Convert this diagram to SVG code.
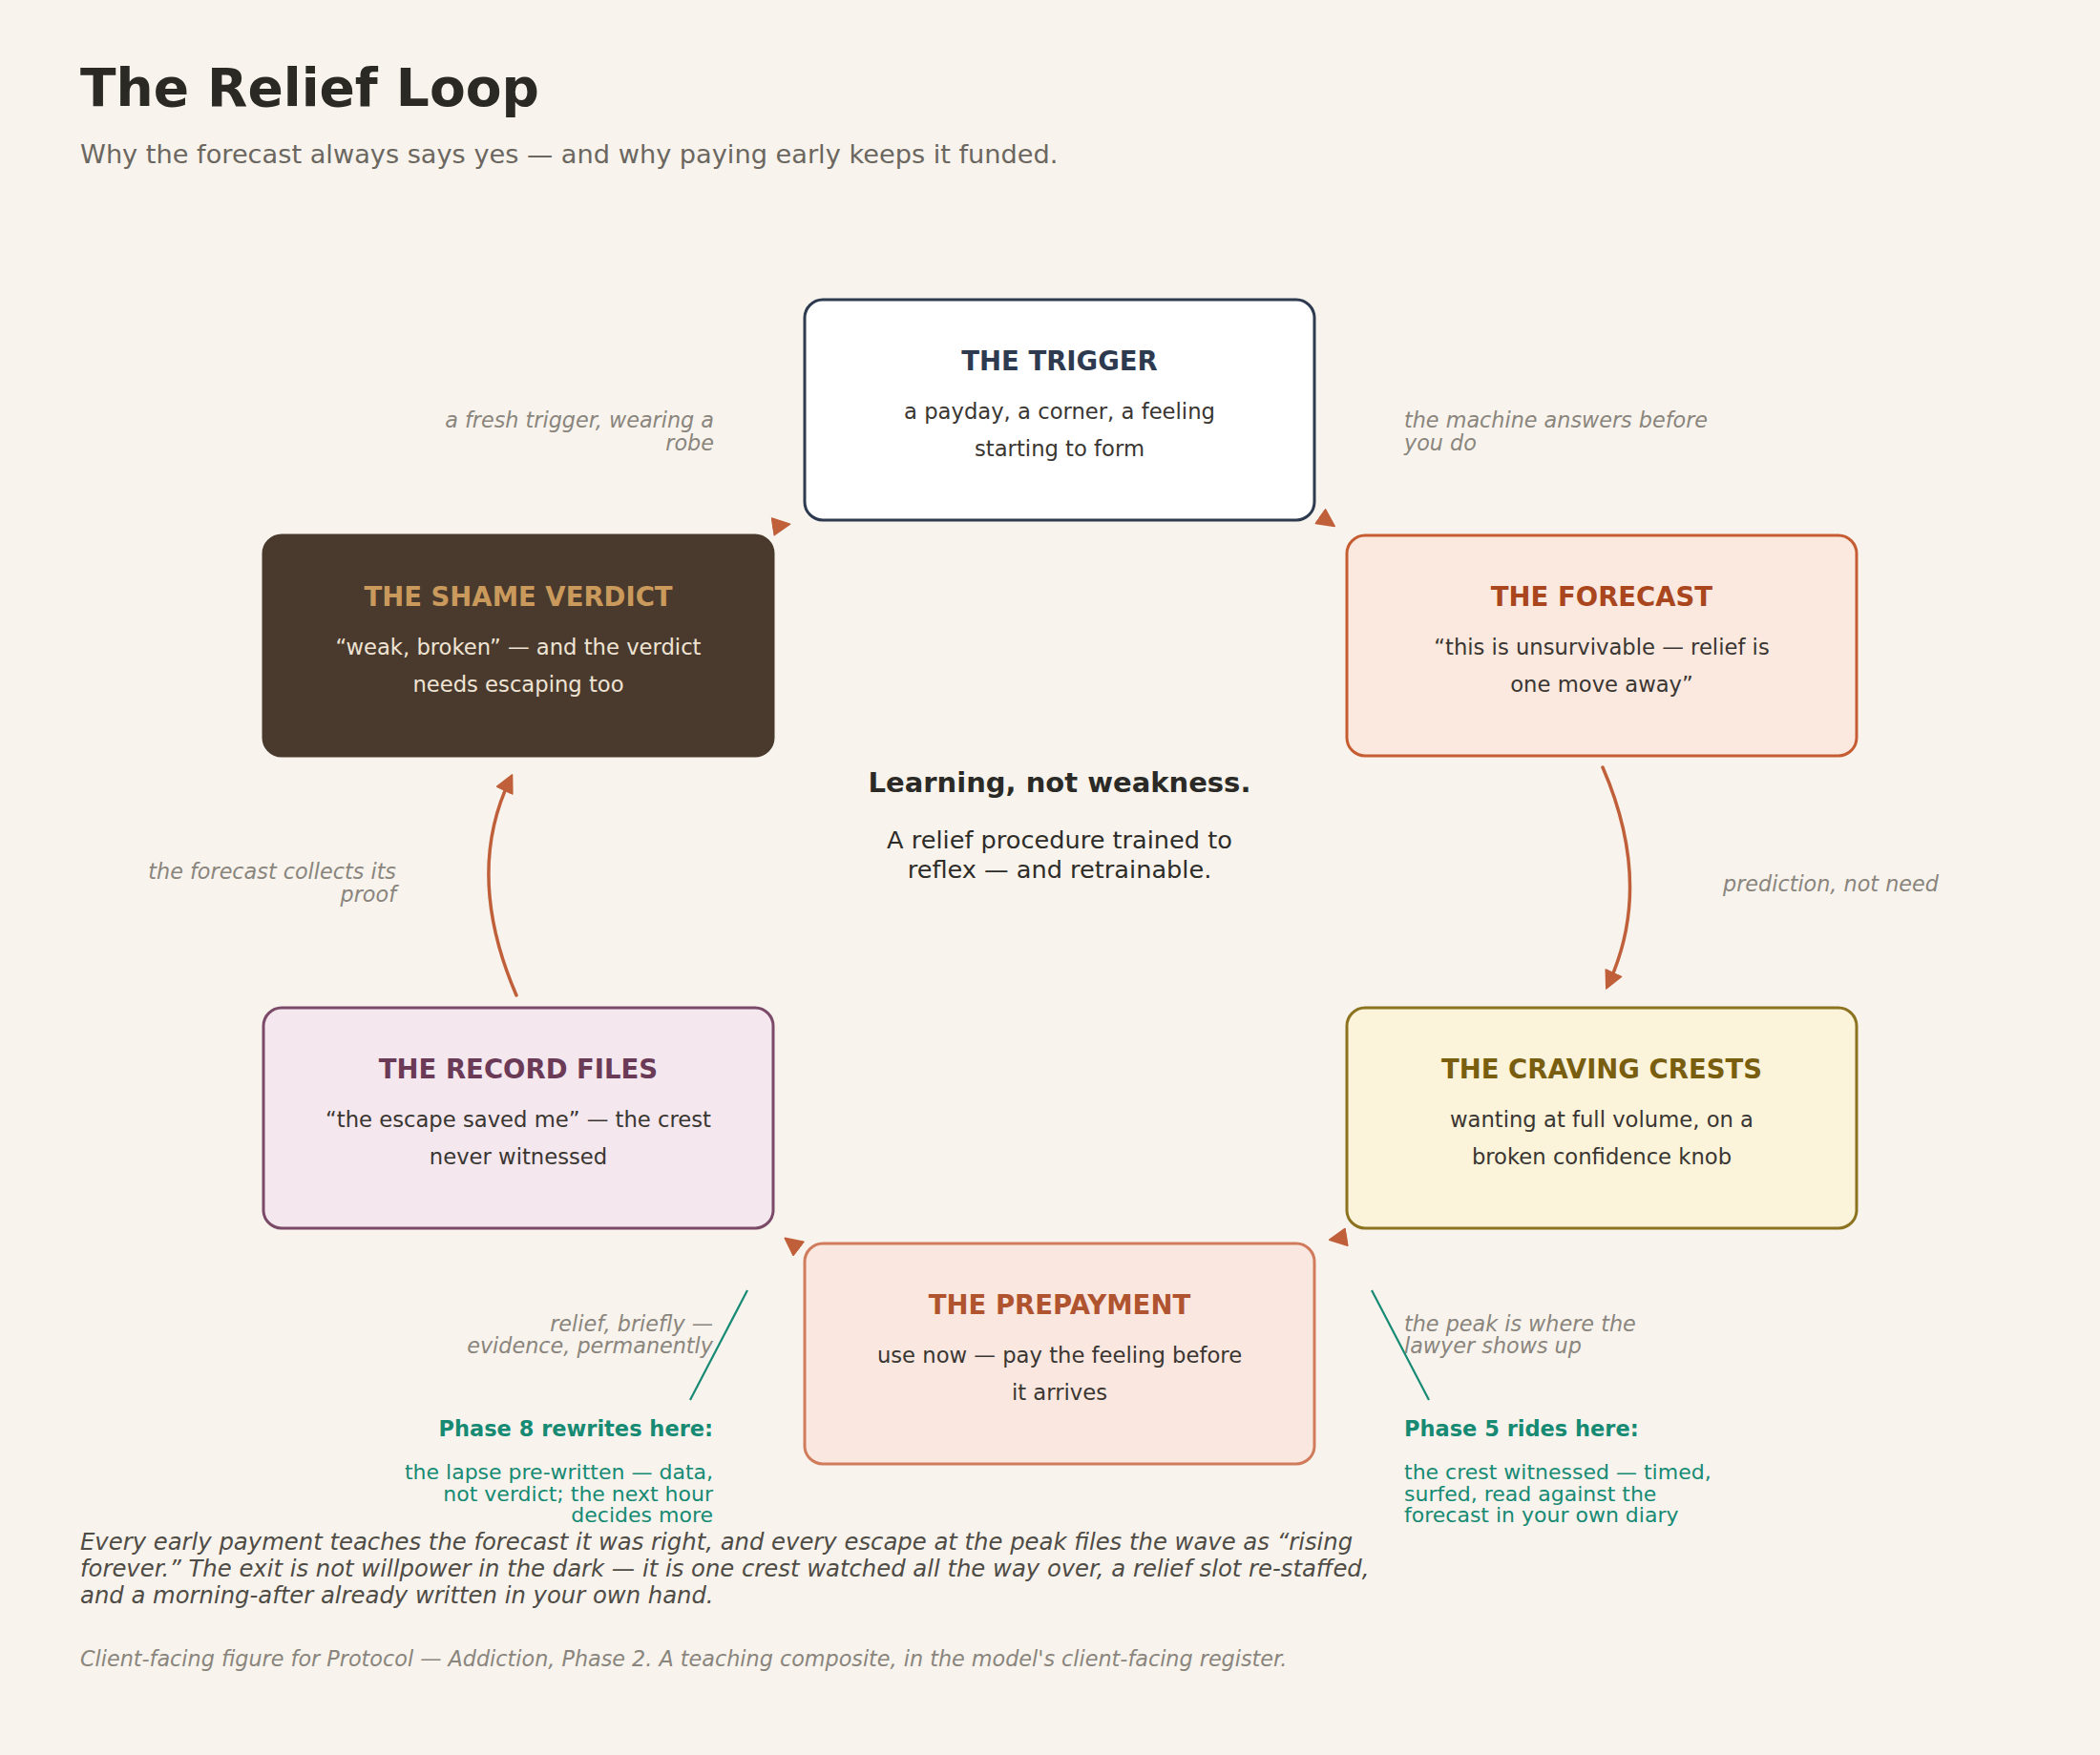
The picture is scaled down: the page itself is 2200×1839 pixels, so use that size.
<svg xmlns="http://www.w3.org/2000/svg" width="2200" height="1839" viewBox="0 0 2200 1839">
  <defs>
    <marker id="arrow" viewBox="0 0 20 20" markerUnits="userSpaceOnUse" markerWidth="20" markerHeight="20" refX="14" refY="10" orient="auto">
      <path d="M1,1 L19,10 L1,19 z" fill="#c0603a" stroke="#c0603a" stroke-width="1.5" stroke-linejoin="round"/>
    </marker>
    <style>
      text { font-family: "DejaVu Sans", "Liberation Sans", sans-serif; }
      .title { font-size: 55px; font-weight: bold; fill: #2a2924; }
      .subtitle { font-size: 27.2px; fill: #6b6760; }
      .box { stroke-width: 3; }
      .head { font-size: 27.5px; font-weight: bold; text-anchor: middle; }
      .body { font-size: 22.7px; fill: #3a3632; text-anchor: middle; }
      .elabel { font-size: 22.3px; font-style: italic; fill: #8a857d; }
      .end { text-anchor: end; }
      .conn { fill: none; stroke: #c0603a; stroke-width: 3.5; stroke-linecap: round; }
      .teal { fill: #178a74; font-size: 22px; }
      .tealb { font-weight: bold; font-size: 22.5px; }
      .tline { stroke: #178a74; stroke-width: 2.2; }
      .center-h { font-size: 29px; font-weight: bold; fill: #2b2a26; text-anchor: middle; }
      .center-b { font-size: 25.6px; fill: #2e2c28; text-anchor: middle; }
      .foot { font-size: 24.3px; font-style: italic; fill: #4f4b45; }
      .note { font-size: 22.3px; font-style: italic; fill: #8a857d; }
    </style>
  </defs>

  <rect x="0" y="0" width="2200" height="1839" fill="#f8f4ed"/>

  <g id="header">
    <text class="title" x="84" y="111">The Relief Loop</text>
    <text class="subtitle" x="84" y="171">Why the forecast always says yes — and why paying early keeps it funded.</text>
  </g>

  <g id="node-trigger">
    <rect class="box" x="843" y="314" width="534" height="231" rx="19" fill="#ffffff" stroke="#2d3a4f"/>
    <text class="head" x="1110" y="387.5" fill="#2d3a4f">THE TRIGGER</text>
    <text class="body" x="1110" y="439">a payday, a corner, a feeling</text>
    <text class="body" x="1110" y="478">starting to form</text>
  </g>

  <g id="node-forecast">
    <rect class="box" x="1411" y="561" width="534" height="231" rx="19" fill="#fbe9df" stroke="#c55c32"/>
    <text class="head" x="1678" y="634.5" fill="#a9461e">THE FORECAST</text>
    <text class="body" x="1678" y="686">“this is unsurvivable — relief is</text>
    <text class="body" x="1678" y="725">one move away”</text>
  </g>

  <g id="node-craving">
    <rect class="box" x="1411" y="1056" width="534" height="231" rx="19" fill="#fbf3da" stroke="#8b7320"/>
    <text class="head" x="1678" y="1129.5" fill="#7a5e10">THE CRAVING CRESTS</text>
    <text class="body" x="1678" y="1181">wanting at full volume, on a</text>
    <text class="body" x="1678" y="1220">broken confidence knob</text>
  </g>

  <g id="node-prepayment">
    <rect class="box" x="843" y="1303" width="534" height="231" rx="19" fill="#fae7e0" stroke="#d07c5c"/>
    <text class="head" x="1110" y="1376.5" fill="#b0532f">THE PREPAYMENT</text>
    <text class="body" x="1110" y="1428">use now — pay the feeling before</text>
    <text class="body" x="1110" y="1467">it arrives</text>
  </g>

  <g id="node-record">
    <rect class="box" x="276" y="1056" width="534" height="231" rx="19" fill="#f4e7ee" stroke="#7b4a68"/>
    <text class="head" x="543" y="1129.5" fill="#6b3a57">THE RECORD FILES</text>
    <text class="body" x="543" y="1181">“the escape saved me” — the crest</text>
    <text class="body" x="543" y="1220">never witnessed</text>
  </g>

  <g id="node-shame">
    <rect class="box" x="276" y="561" width="534" height="231" rx="19" fill="#4a3a2e" stroke="#4a3a2e"/>
    <text class="head" x="543" y="634.5" fill="#c99a5b">THE SHAME VERDICT</text>
    <text class="body" x="543" y="686" style="fill:#efe4d4">“weak, broken” — and the verdict</text>
    <text class="body" x="543" y="725" style="fill:#efe4d4">needs escaping too</text>
  </g>

  <g id="connectors">
    <path class="conn" d="M1384.2,541.7 L1394.1,548.6" marker-end="url(#arrow)"/>
    <path class="conn" d="M1679,804 Q1733,928.3 1684.9,1031.5" marker-end="url(#arrow)"/>
    <path class="conn" d="M1409.5,1296.5 L1397.6,1298.4" marker-end="url(#arrow)"/>
    <path class="conn" d="M835.7,1307.7 L826.2,1300.4" marker-end="url(#arrow)"/>
    <path class="conn" d="M541,1043 Q486.3,916.3 534.4,816.4" marker-end="url(#arrow)"/>
    <path class="conn" d="M810.8,551.7 L822.7,549.9" marker-end="url(#arrow)"/>
  </g>

  <g id="edge-labels">
    <text class="elabel end" x="748" y="448">a fresh trigger, wearing a</text>
    <text class="elabel end" x="748" y="472">robe</text>
    <text class="elabel" x="1471" y="448">the machine answers before</text>
    <text class="elabel" x="1471" y="472">you do</text>
    <text class="elabel" x="1805" y="934">prediction, not need</text>
    <text class="elabel end" x="415" y="921">the forecast collects its</text>
    <text class="elabel end" x="415" y="945">proof</text>
    <text class="elabel" x="1471" y="1395">the peak is where the</text>
    <text class="elabel" x="1471" y="1418">lawyer shows up</text>
    <text class="elabel end" x="747" y="1395">relief, briefly —</text>
    <text class="elabel end" x="747" y="1418">evidence, permanently</text>
  </g>

  <g id="center">
    <text class="center-h" x="1110" y="829.5">Learning, not weakness.</text>
    <text class="center-b" x="1110" y="889">A relief procedure trained to</text>
    <text class="center-b" x="1110" y="919.5">reflex — and retrainable.</text>
  </g>

  <g id="callout-phase8">
    <line class="tline" x1="783" y1="1352" x2="723" y2="1467"/>
    <text class="teal tealb end" x="747" y="1505">Phase 8 rewrites here:</text>
    <text class="teal end" x="747" y="1550">the lapse pre-written — data,</text>
    <text class="teal end" x="747" y="1572.5">not verdict; the next hour</text>
    <text class="teal end" x="747" y="1595">decides more</text>
  </g>

  <g id="callout-phase5">
    <line class="tline" x1="1437" y1="1352" x2="1497" y2="1467"/>
    <text class="teal tealb" x="1471" y="1505">Phase 5 rides here:</text>
    <text class="teal" x="1471" y="1550">the crest witnessed — timed,</text>
    <text class="teal" x="1471" y="1572.5">surfed, read against the</text>
    <text class="teal" x="1471" y="1595">forecast in your own diary</text>
  </g>

  <g id="footer">
    <text class="foot" x="84" y="1624">Every early payment teaches the forecast it was right, and every escape at the peak files the wave as “rising</text>
    <text class="foot" x="84" y="1652">forever.” The exit is not willpower in the dark — it is one crest watched all the way over, a relief slot re-staffed,</text>
    <text class="foot" x="84" y="1680">and a morning-after already written in your own hand.</text>
    <text class="note" x="84" y="1745.5">Client-facing figure for Protocol — Addiction, Phase 2. A teaching composite, in the model's client-facing register.</text>
  </g>
</svg>
